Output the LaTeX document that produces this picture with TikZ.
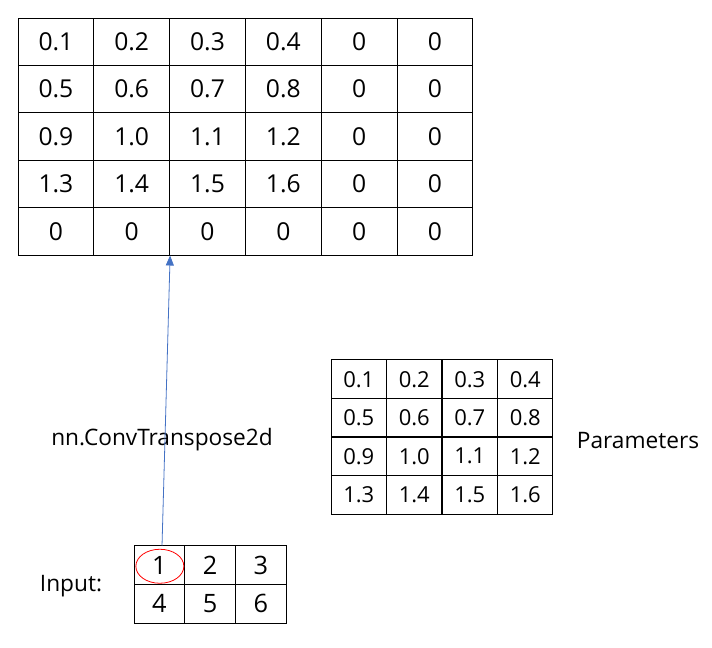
\documentclass[tikz,border=0pt]{standalone}
\usepackage{fontspec}
\setmainfont{Open Sans}
\usetikzlibrary{arrows.meta}

\definecolor{arrowblue}{RGB}{68,114,196}

\tikzset{
  cell/.style={draw, line width=0.75pt, inner sep=0pt},
  outcell/.style={cell, minimum width=56.85pt, minimum height=35.55pt, font=\fontsize{18.5}{20}\selectfont},
  parcell/.style={cell, minimum width=41.6pt, minimum height=28.9pt, font=\fontsize{16.5}{18}\selectfont},
  incell/.style={cell, minimum width=38pt, minimum height=28.9pt, font=\fontsize{19}{20}\selectfont},
  label/.style={font=\fontsize{17}{20}\selectfont}
}

\begin{document}
\begin{tikzpicture}[x=0.75pt, y=-0.75pt]
                \useasboundingbox (0,0) rectangle (712,647);

                % Output grid
                \foreach \row [count=\r] in {{0.1,0.2,0.3,0.4,0,0},{0.5,0.6,0.7,0.8,0,0},{0.9,1.0,1.1,1.2,0,0},{1.3,1.4,1.5,1.6,0,0},{0,0,0,0,0,0}}
                  \foreach \val [count=\c] in \row
                    \node[outcell] (o-\r-\c) at ({18+75.8*(\c-0.5)},{18+47.4*(\r-0.5)}) {\val};

                % Parameters grid
                \foreach \row [count=\r] in {{0.1,0.2,0.3,0.4},{0.5,0.6,0.7,0.8},{0.9,1.0,1.1,1.2},{1.3,1.4,1.5,1.6}}
                  \foreach \val [count=\c] in \row
                    \node[parcell] (p-\r-\c) at ({331+55.5*(\c-0.5)},{360+38.5*(\r-0.5)}) {\val};

                % Input grid
                \foreach \row [count=\r] in {{1,2,3},{4,5,6}}
                  \foreach \val [count=\c] in \row
                    \node[incell] (i-\r-\c) at ({134+50.7*(\c-0.5)},{546+38.5*(\r-0.5)}) {\val};

                % Labels
                \node[label] (conv) at (162,440) {nn.ConvTranspose2d};
                \node[label] (params) at (638,441) {Parameters};
                \node[label] (input) at (71,586) {Input:};

                % Edges
                \draw[red, line width=0.6pt] (i-1-1.center) ++(0.5,1) ellipse (24 and 17);
                \coordinate (start) at ([xshift=2pt]i-1-1.north);
                \draw[arrowblue, line width=0.6pt, -{Triangle[length=7.5pt, width=6pt]}] (start) -- (o-5-2.south east);
\end{tikzpicture}
\end{document}
